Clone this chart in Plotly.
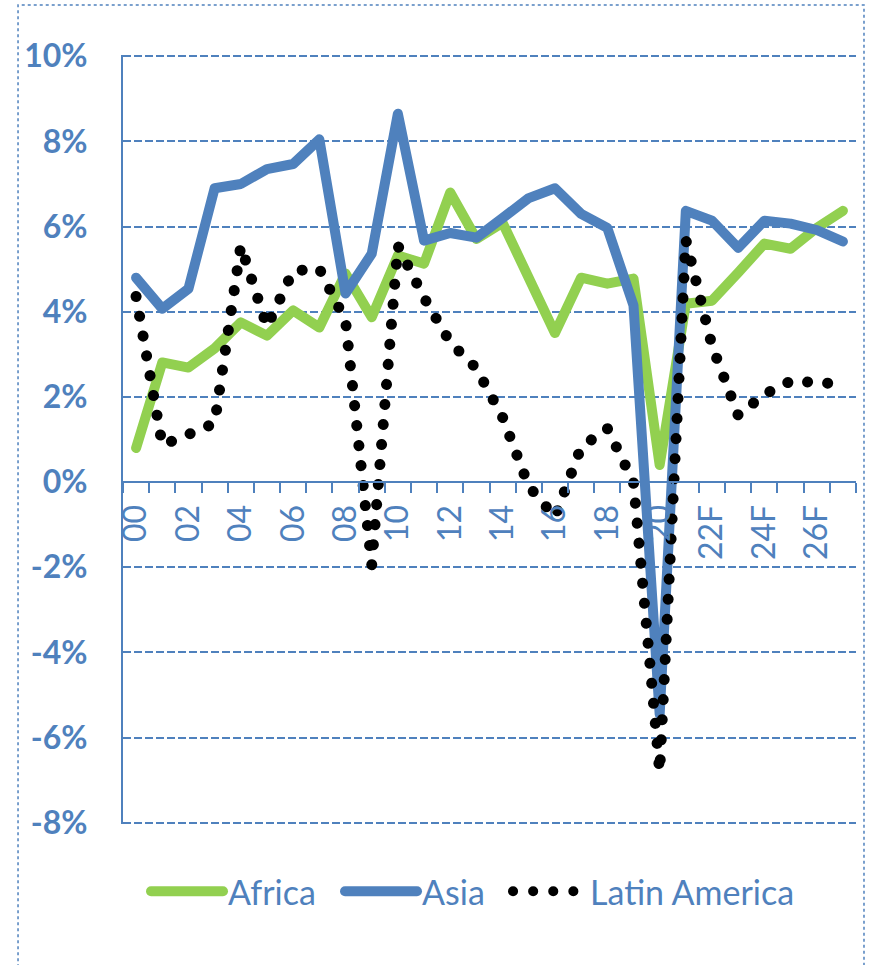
import plotly.graph_objects as go

years = ["00", "01", "02", "03", "04", "05", "06", "07", "08", "09",
         "10", "11", "12", "13", "14", "15", "16", "17", "18", "19",
         "20", "21", "22F", "23F", "24F", "25F", "26F", "27F"]

africa = [0.8, 2.81, 2.69, 3.14, 3.75, 3.44, 4.03, 3.63, 4.9, 3.87,
          5.32, 5.13, 6.8, 5.71, 6.09, 4.8, 3.5, 4.8, 4.66, 4.78,
          0.4, 4.19, 4.26, 4.92, 5.6, 5.48, 5.97, 6.37]

asia = [4.8, 4.07, 4.54, 6.9, 7.0, 7.35, 7.47, 8.05, 4.43, 5.36,
        8.65, 5.67, 5.85, 5.74, 6.2, 6.67, 6.9, 6.3, 5.97, 4.15,
        -5.45, 6.37, 6.14, 5.5, 6.14, 6.07, 5.92, 5.65]

latin_america = [4.36, 0.87, 1.12, 1.38, 5.55, 3.65, 4.96, 5.01, 3.79, -1.95,
                 5.55, 4.33, 3.28, 2.67, 1.52, -0.1, -0.82, 0.82, 1.26, 0.0,
                 -6.8, 5.69, 3.2, 1.57, 2.06, 2.37, 2.34, 2.3]

y_ticks = [-8, -6, -4, -2, 0, 2, 4, 6, 8, 10]
y_tick_text = ["-8%", "-6%", "-4%", "-2%", "0%", "2%", "4%", "6%", "8%", "10%"]

BLUE = "#4F81BD"
GREEN = "#92D050"
FONT = "Lato"

x = list(range(len(years)))
x_tickvals = x[::2]
x_ticktext = years[::2]

fig = go.Figure()
fig.add_trace(go.Scatter(x=x, y=africa, name="Africa", mode="lines",
                         line=dict(color=GREEN, width=10), legend="legend"))
fig.add_trace(go.Scatter(x=x, y=asia, name="Asia", mode="lines",
                         line=dict(color=BLUE, width=10), legend="legend2"))
fig.add_trace(go.Scatter(x=x, y=latin_america, name="Latin America", mode="lines",
                         line=dict(color="black", width=11, dash="0.1px,20px"),
                         legend="legend3"))

ymin, ymax = -8, 10
pad = 0.03

# plot area: x 123..856 px, y 55..824 px
def px_to_paper_x(px):
    return (px - 123) / 733.0

leg_common = dict(orientation="h", y=-0.088, yanchor="middle", xanchor="left",
                  font=dict(family=FONT, size=34, color=BLUE),
                  bgcolor="rgba(0,0,0,0)", borderwidth=0, itemwidth=72)

fig.update_layout(
    width=869, height=965,
    margin=dict(l=123, r=13, t=55, b=141),
    paper_bgcolor="white", plot_bgcolor="white",
    font=dict(family=FONT, color=BLUE),
    showlegend=True,
    legend=dict(x=px_to_paper_x(146), **leg_common),
    legend2=dict(x=px_to_paper_x(340), **leg_common),
    legend3=dict(x=px_to_paper_x(508), **leg_common),
    xaxis=dict(range=[-0.5, len(years) - 0.5], anchor="free",
               position=(0 - (ymin - pad)) / ((ymax + pad) - (ymin - pad)),
               showgrid=False, zeroline=False,
               showline=True, linecolor=BLUE, linewidth=2,
               tickmode="array", tickvals=x_tickvals, ticktext=x_ticktext,
               tickangle=-90, ticks="", ticklabelstandoff=9,
               tickfont=dict(family=FONT, size=32, color=BLUE),
               minor=dict(ticks="outside", tick0=-0.5, dtick=1, ticklen=10,
                          tickwidth=2, tickcolor=BLUE, showgrid=False)),
    yaxis=dict(range=[ymin - pad, ymax + pad], showgrid=True, gridcolor=BLUE,
               griddash="8px,3px", gridwidth=1.5, zeroline=False,
               showline=True, linecolor=BLUE, linewidth=2,
               tickmode="array", tickvals=y_ticks, ticktext=y_tick_text,
               ticks="", ticklabelstandoff=27,
               tickfont=dict(family=FONT, size=32, color=BLUE, weight="bold")),
)

# outer dotted chart-area border
fig.add_shape(type="rect", xref="paper", yref="paper",
              x0=-0.1432, x1=1.0109, y0=-0.2, y1=1.065,
              line=dict(color=BLUE, width=1.5, dash="dot"), layer="below")

post = """
document.body.style.margin = '0';
document.body.style.overflow = 'hidden';
var gd = document.getElementById('{plot_id}');
function fixCaps(){
  gd.querySelectorAll('path.js-line').forEach(function(p){
    p.style.strokeLinecap = 'round';
    p.style.strokeLinejoin = 'round';
  });
}
fixCaps();
gd.on('plotly_afterplot', fixCaps);
"""

fig.write_html("out.html", post_script=post, config={"displayModeBar": False})
